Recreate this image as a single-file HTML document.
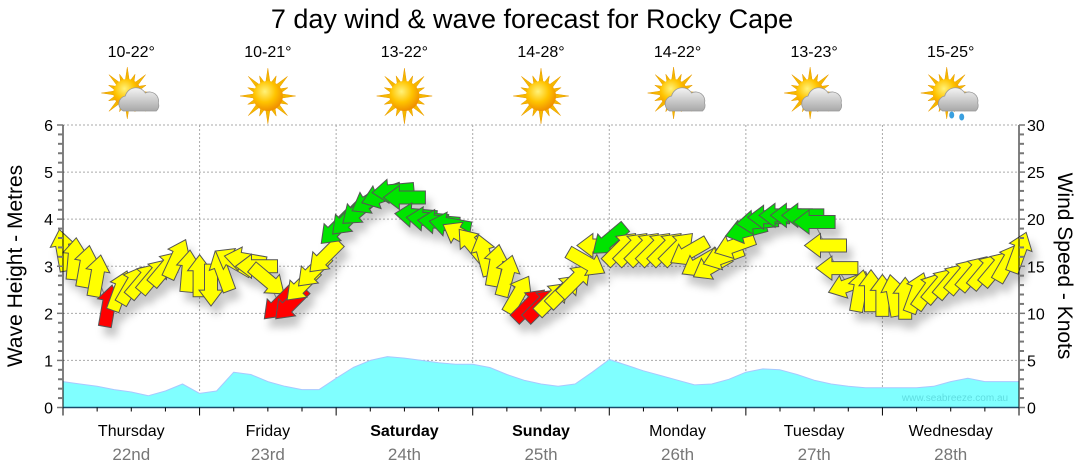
<!DOCTYPE html>
<html><head><meta charset="utf-8"><style>
html,body{margin:0;padding:0;background:#fff;}
svg{display:block;font-family:"Liberation Sans",sans-serif;}
</style></head><body>
<svg id="chart" width="1080" height="475" viewBox="0 0 1080 475" xmlns="http://www.w3.org/2000/svg">
<defs>
<filter id="sh" x="-50%" y="-50%" width="200%" height="200%"><feDropShadow dx="5" dy="9" stdDeviation="4" flood-color="#000" flood-opacity="0.22"/></filter>
<radialGradient id="sunG" cx="40%" cy="35%" r="65%"><stop offset="0" stop-color="#fff27a"/><stop offset="0.55" stop-color="#ffc400"/><stop offset="1" stop-color="#f09000"/></radialGradient>
<linearGradient id="cloudG" x1="0" y1="0" x2="0" y2="1"><stop offset="0" stop-color="#f4f4f4"/><stop offset="1" stop-color="#a8a8a8"/></linearGradient>
</defs>
<text x="532" y="28" text-anchor="middle" font-size="27" fill="#000">7 day wind &amp; wave forecast for Rocky Cape</text>
<g id="grid"></g>
<g id="wave"></g>
<g id="wline"></g>
<g id="arrows" filter="url(#sh)"></g>
<g id="axes"></g>
<g id="days"></g>
<g id="icons"></g>
<text x="955" y="401" text-anchor="middle" font-size="10" fill="#5fdde0">www.seabreeze.com.au</text>
<text transform="translate(22,266) rotate(-90)" text-anchor="middle" font-size="21" fill="#000">Wave Height - Metres</text>
<text transform="translate(1058,266) rotate(90)" text-anchor="middle" font-size="21" fill="#000">Wind Speed - Knots</text>
</svg>
<script>
const dayNames=["Thursday","Friday","Saturday","Sunday","Monday","Tuesday","Wednesday"];
const dayDates=["22nd","23rd","24th","25th","26th","27th","28th"];
const boldDays=[false,false,true,true,false,false,false];
const temps=["10-22°","10-21°","13-22°","14-28°","14-22°","13-23°","15-25°"];
const weather=["partly","sun","sun","sun","partly","partly","rain"];
const waveHeights=[0.55,0.5,0.45,0.38,0.33,0.25,0.35,0.5, 0.3,0.35,0.75,0.7,0.55,0.45,0.38,0.38, 0.62,0.85,1.0,1.08,1.05,1.0,0.95,0.92, 0.92,0.85,0.7,0.58,0.5,0.45,0.5,0.75, 1.02,0.9,0.78,0.68,0.58,0.48,0.5,0.6, 0.75,0.82,0.8,0.7,0.58,0.5,0.45,0.42, 0.42,0.42,0.42,0.45,0.55,0.62,0.55,0.55,0.55];
const windSpeeds=[16.7,15.8,15,14,10.8,12.4,13,13.5,14,14.8,15.8,14.5,
14,13,14.5,15.5,15.7,15,13.5,11,11,13,14.5,16,
19,20,21,22,22.5,23,22.3,20.4,20,19.7,19.4,18.3,
17.2,16.2,15.1,14,12,10.9,10.9,11.6,12.4,13.5,15.4,17.2,
17.8,16.9,16.9,16.9,16.9,16.9,16.9,16.5,15.3,15,16,17.2,
18.8,19.7,20.2,20.4,20.4,20.4,19.7,17.2,14.8,13,12.4,12.4,
11.9,11.9,11.6,12.2,12.4,13,13.5,14,14.3,14.5,14.8,15.4,16.5];
const windDirs=[350,5,10,10,10,20,30,40,40,40,25,5,
0,180,340,300,280,270,130,225,225,225,225,225,
225,225,230,240,250,265,270,275,275,275,280,300,
320,345,10,15,30,45,45,45,45,45,120,270,
230,45,45,45,45,45,45,240,240,240,250,250,
255,265,270,270,270,270,270,270,270,250,10,0,
0,350,0,20,35,40,40,40,40,40,40,30,20];
const windColors=["y","y","y","y","r","y","y","y","y","y","y","y",
"y","y","y","y","y","y","y","r","r","y","y","y",
"g","g","g","g","g","g","g","g","g","g","g","y",
"y","y","y","y","y","r","r","y","y","y","y","y",
"g","y","y","y","y","y","y","y","y","y","y","y",
"g","g","g","g","g","g","g","y","y","y","y","y",
"y","y","y","y","y","y","y","y","y","y","y","y","y"];
const leftTicks=[0,1,2,3,4,5,6];
const rightTicks=[0,5,10,15,20,25,30];

const NS="http://www.w3.org/2000/svg";
const X0=63,X1=1019,Y0=407.5,Y6=125;
const dayW=(X1-X0)/7;
const xDay=d=>X0+d*dayW;
const yWave=v=>Y0-(v/6)*(Y0-Y6);
const yWind=v=>Y0-(v/30)*(Y0-Y6);
function mk(tag,attrs,parent){const e=document.createElementNS(NS,tag);for(const k in attrs)e.setAttribute(k,attrs[k]);parent.appendChild(e);return e;}
const G=id=>document.getElementById(id);

const grid=G('grid');
leftTicks.forEach(v=>{if(v===0)return;const l=mk('line',{x1:X0,x2:X1,y1:yWave(v),y2:yWave(v),stroke:'#aaa','stroke-dasharray':'2,2'},grid);

});
for(let d=1;d<7;d++){const l=mk('line',{x1:xDay(d),x2:xDay(d),y1:Y6,y2:Y0,stroke:'#aaa','stroke-dasharray':'2,2'},grid);

}

const wstep=dayW*7/(waveHeights.length-1);
let pd=`M${X0},${Y0}`;
waveHeights.forEach((v,i)=>{pd+=` L${(X0+i*wstep).toFixed(1)},${yWave(v).toFixed(1)}`;});
pd+=` L${X1},${Y0} Z`;
const wa=mk('path',{d:pd,fill:'#80ffff',stroke:'#a8c8ff','stroke-width':1,'stroke-linejoin':'round'},G('wave'));



const step=dayW*7/(windSpeeds.length-1);
let lp='';
windSpeeds.forEach((v,i)=>{lp+=(i?' L':'M')+(X0+i*step).toFixed(1)+','+yWind(v).toFixed(1);});
const wl=mk('path',{d:lp,fill:'none',stroke:'#999','stroke-width':1},G('wline'));


const colMap={y:'#ffff00',g:'#00e400',r:'#ff0000'};
const arrowPts="0,-21 12,-5 6.5,-5 6.5,21 -6.5,21 -6.5,-5 -12,-5";
windSpeeds.forEach((v,i)=>{
  const x=X0+i*step,y=yWind(v);
  const a=mk('polygon',{points:arrowPts,fill:colMap[windColors[i]],stroke:'#555','stroke-width':1,transform:`translate(${x.toFixed(1)},${y.toFixed(1)}) rotate(${windDirs[i]})`},G('arrows'));
  
  
});

const ax=G('axes');
mk('line',{x1:X0,x2:X0,y1:Y6,y2:Y0+6,stroke:'#000'},ax);
mk('line',{x1:X1,x2:X1,y1:Y6,y2:Y0,stroke:'#000'},ax);
mk('line',{x1:X0,x2:X1,y1:Y0,y2:Y0,stroke:'#1a4a6a','stroke-width':1.5},ax);
for(let k=0;k<=30;k++){const y=Y0-k*(Y0-Y6)/30;mk('line',{x1:X0-(k%5?5:6),x2:X0,y1:y,y2:y,stroke:'#777','stroke-width':k%5?2:1.5},ax);
mk('line',{x1:X1,x2:X1+(k%5?5:6),y1:y,y2:y,stroke:'#777','stroke-width':k%5?2:1.5},ax);}
leftTicks.forEach(v=>{const t=mk('text',{x:X0-10,y:yWave(v)+6,'text-anchor':'end','font-size':16},ax);t.textContent=v;

});
rightTicks.forEach(v=>{const t=mk('text',{x:X1+8,y:yWind(v)+6,'text-anchor':'start','font-size':16},ax);t.textContent=v;

});
for(let q=0;q<=28;q++){const x=X0+q*dayW/4;mk('line',{x1:x,x2:x,y1:Y0,y2:Y0+(q%4?4:8),stroke:'#000'},ax);}

const days=G('days'),icons=G('icons');
function sun(g,cx,cy,r){
  for(let k=0;k<16;k++){const ang=k*Math.PI/8,len=(k%2?r*1.45:r*1.85),w=0.16;
    const p=[[cx+Math.cos(ang-w)*r*0.9,cy+Math.sin(ang-w)*r*0.9],[cx+Math.cos(ang)*len,cy+Math.sin(ang)*len],[cx+Math.cos(ang+w)*r*0.9,cy+Math.sin(ang+w)*r*0.9]];
    mk('polygon',{points:p.map(a=>a.join(',')).join(' '),fill:'#f5b800',stroke:'#e89a00','stroke-width':0.5},g);}
  mk('circle',{cx,cy,r,fill:'url(#sunG)'},g);
}
function cloud(g,cx,cy){
  mk('path',{d:`M${cx-16},${cy+10} a8,8 0 0,1 2,-15 a11,11 0 0,1 20,-3 a9,9 0 0,1 13,10 a7,7 0 0,1 -2,8 Z`,fill:'url(#cloudG)',stroke:'#999','stroke-width':0.8},g);
}
for(let d=0;d<7;d++){
  const cx=xDay(d)+dayW/2;
  const n=mk('text',{x:cx,y:436,'text-anchor':'middle','font-size':16,'font-weight':boldDays[d]?'bold':'normal'},days);n.textContent=dayNames[d];
  
  
  const dt=mk('text',{x:cx,y:460,'text-anchor':'middle','font-size':17,fill:'#777'},days);dt.textContent=dayDates[d];
  
  
  const tt=mk('text',{x:cx,y:57,'text-anchor':'middle','font-size':16},icons);tt.textContent=temps[d];
  
  
  const g=mk('g',{},icons);
  
  
  if(weather[d]==='sun'){sun(g,cx,96,15);}
  else{sun(g,cx-4,93,14);cloud(g,cx+8,101);
    if(weather[d]==='rain'){mk('ellipse',{cx:cx+1,cy:115,rx:2.5,ry:3.5,fill:'#3aa0e0'},g);mk('ellipse',{cx:cx+11,cy:117,rx:2.5,ry:3.5,fill:'#3aa0e0'},g);}}
}
</script>
</body></html>
